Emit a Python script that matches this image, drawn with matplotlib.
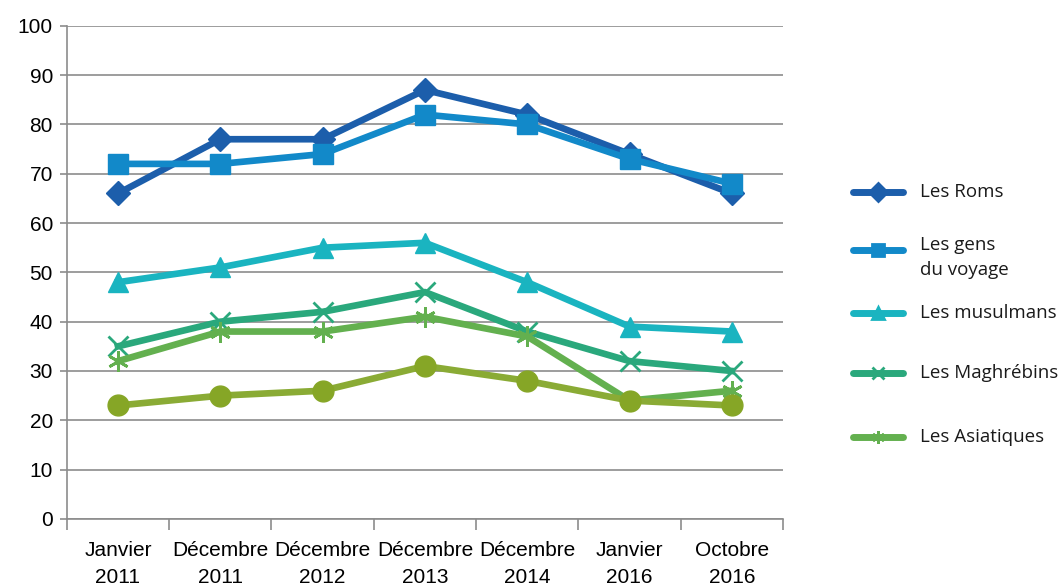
import matplotlib
matplotlib.use("Agg")
import matplotlib.pyplot as plt
from matplotlib.lines import Line2D
import numpy as np

# categories and values
categories = ["Janvier\n2011", "Décembre\n2011", "Décembre\n2012", "Décembre\n2013",
              "Décembre\n2014", "Janvier\n2016", "Octobre\n2016"]
roms = [66, 77, 77, 87, 82, 74, 66]
gens_voyage = [72, 72, 74, 82, 80, 73, 68]
musulmans = [48, 51, 55, 56, 48, 39, 38]
maghrebins = [35, 40, 42, 46, 38, 32, 30]
asiatiques = [32, 38, 38, 41, 37, 24, 26]
juifs = [23, 25, 26, 31, 28, 24, 23]

series = [
    ("Les Roms", roms, "#1c5eab", "D", 12),
    ("Les gens\ndu voyage", gens_voyage, "#1289c9", "s", 14),
    ("Les musulmans", musulmans, "#1ab4c0", "^", 14),
    ("Les Maghrébins", maghrebins, "#2aa87c", "x", 14),
    ("Les Asiatiques", asiatiques, "#63b04f", (6, 2, 0), 15),
]

W, H = 1061, 587
fig = plt.figure(figsize=(W / 100, H / 100), dpi=100)
ax = fig.add_axes([0.063, 0.116, 0.675, 0.84])

x = np.arange(len(categories))
for label, vals, col, mk, ms in series:
    if mk == "x" or isinstance(mk, tuple):
        ax.plot(x, vals, color=col, lw=4.8, marker=mk, ms=ms, mew=2, mec=col, zorder=3)
    else:
        ax.plot(x, vals, color=col, lw=4.8, marker=mk, ms=ms, mec=col, mfc=col, zorder=3)

ax.plot(x, juifs, color="#8aab35", lw=4.8, marker="o", ms=15, mfc="#86a626",
        mec="#86a626", zorder=4)

ax.set_xlim(-0.5, len(categories) - 0.5)
ax.set_ylim(0, 100)
ax.set_yticks(range(0, 101, 10))
ax.yaxis.grid(True, color="#8c8c8c", lw=1.2)
ax.set_axisbelow(True)

ax.set_xticks(x)
ax.set_xticklabels(categories, fontsize=15, family="Liberation Sans", linespacing=1.55)
ax.set_xticks(np.arange(-0.5, len(categories)), minor=True)
ax.tick_params(axis="x", which="major", length=0, pad=16)
ax.tick_params(axis="x", which="minor", length=8, color="#8c8c8c", width=1.2)
ax.tick_params(axis="y", length=5, color="#8c8c8c", width=1.2, labelsize=15, pad=5)
for t in ax.get_yticklabels():
    t.set_family("Liberation Sans")

for s in ["top", "right"]:
    ax.spines[s].set_visible(False)
ax.spines["left"].set_color("#8c8c8c")
ax.spines["bottom"].set_color("#8c8c8c")
ax.spines["left"].set_linewidth(1.2)
ax.spines["bottom"].set_linewidth(1.2)

# legend drawn by hand (the two-line entry sits with its handle on the first line)
leg_y = [192, 250, 313, 373, 437]
for (label, vals, col, mk, ms), yp in zip(series, leg_y):
    yf = 1 - yp / H
    fig.add_artist(Line2D([853 / W, 903 / W], [yf, yf], color=col, lw=5,
                          solid_capstyle="round"))
    fig.add_artist(Line2D([878 / W], [yf], color=col, marker=mk, ms=9, mew=2,
                          mec=col, mfc=col))
    if "\n" in label:
        fig.text(920 / W, 1 - 236 / H, label, ha="left", va="top", fontsize=13.5,
                 family="Open Sans", linespacing=1.5, color="#1a1a1a")
    else:
        fig.text(920 / W, yf, label, ha="left", va="center", fontsize=13.5,
                 family="Open Sans", color="#1a1a1a")

fig.savefig("out.png", dpi=100)
